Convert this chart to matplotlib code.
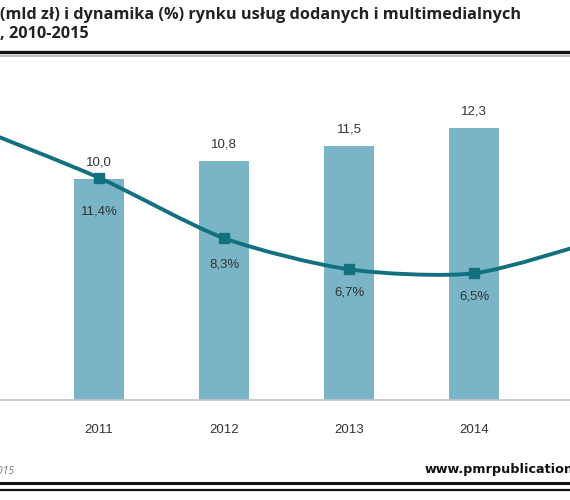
import matplotlib
matplotlib.use("Agg")
import matplotlib.pyplot as plt
from matplotlib.lines import Line2D
from matplotlib.path import Path
from matplotlib.patches import PathPatch
import numpy as np

# dane
lata = ["2010", "2011", "2012", "2013", "2014", "2015"]
wartosc = [9.0, 10.0, 10.8, 11.5, 12.3, 13.3]        # mld zł
dynamika = [14.0, 11.4, 8.3, 6.7, 6.5, 8.2]           # %
etykiety_wart = ["9,0", "10,0", "10,8", "11,5", "12,3", "13,3"]
etykiety_dyn = ["14,0%", "11,4%", "8,3%", "6,7%", "6,5%", "8,2%"]

kolor_slupka = "#79B5C6"
kolor_linii = "#12707F"
kolor_tekstu = "#333333"

# widoczny fragment osi X (wykres jest przyciety jak w oryginale)
X_MIN, X_MAX = 0.208, 4.768


def gladka_sciezka(xs, ys, k=8.0):
    # krzywa Beziera przez punkty (jak wygladzona linia w Excelu)
    pts = np.column_stack([xs, ys]).astype(float)
    verts = [pts[0]]
    codes = [Path.MOVETO]
    n = len(pts)
    for i in range(n - 1):
        p0 = pts[i - 1] if i > 0 else pts[i]
        p1 = pts[i]
        p2 = pts[i + 1]
        p3 = pts[i + 2] if i + 2 < n else pts[i + 1]
        c1 = p1 + (p2 - p0) / k
        c2 = p2 - (p3 - p1) / k
        verts += [c1, c2, p2]
        codes += [Path.CURVE4] * 3
    return Path(verts, codes)


fig = plt.figure(figsize=(5.7, 5.0), dpi=100)

ax = fig.add_axes([0, 0.2, 1, 0.68])
x = np.arange(len(lata))
ax.bar(x, wartosc, width=0.4, color=kolor_slupka, zorder=2)
ax.set_ylim(0, 15.38)
ax.set_xticks(x)
ax.set_xticklabels(lata, fontsize=9.5, color=kolor_tekstu, family="Liberation Sans")
ax.tick_params(axis="x", length=0, pad=17)
ax.set_yticks([])
for s in ["top", "left", "right"]:
    ax.spines[s].set_visible(False)
ax.spines["bottom"].set_color("#C4C4C4")
ax.spines["bottom"].set_linewidth(1.2)

widoczne = [X_MIN < xi < X_MAX for xi in x]

for xi, v, lab, w in zip(x, wartosc, etykiety_wart, widoczne):
    if w:
        ax.annotate(lab, (xi, v), xytext=(0, 12), textcoords="offset points",
                    ha="center", va="center", fontsize=9.5, color=kolor_tekstu,
                    family="Liberation Sans")

ax2 = ax.twinx()
ax2.set_ylim(0, 17.44)
ax2.set_yticks([])
for s in ax2.spines.values():
    s.set_visible(False)
ax2.add_patch(PathPatch(gladka_sciezka(x, dynamika), facecolor="none",
                        edgecolor=kolor_linii, lw=2.8, zorder=3))
ax2.plot(x, dynamika, ls="none", marker="s", ms=7.5, color=kolor_linii, zorder=4)

przesuniecia = [-24, -24, -19, -17, -17, -17]
for xi, v, lab, dy, w in zip(x, dynamika, etykiety_dyn, przesuniecia, widoczne):
    if w:
        ax2.annotate(lab, (xi, v), xytext=(0, dy), textcoords="offset points",
                     ha="center", va="center", fontsize=9.5, color=kolor_tekstu,
                     family="Liberation Sans")

ax.set_xlim(X_MIN, X_MAX)
ax2.set_xlim(X_MIN, X_MAX)

# tytul
fig.text(0.0, 1 - 15 / 500, "(mld zł) i dynamika (%) rynku usług dodanych i multimedialnych",
         ha="left", va="center", fontsize=11.7, fontweight="bold", family="Open Sans",
         color="#222222")
fig.text(0.0, 1 - 34 / 500, ", 2010-2015", ha="left", va="center", fontsize=11.7,
         fontweight="bold", family="Open Sans", color="#222222")

# linie ramki
fig.add_artist(Line2D([0, 1], [1 - 51.5 / 500] * 2, color="#111111", lw=2.4))
fig.add_artist(Line2D([0, 1], [1 - 55.5 / 500] * 2, color="#B0B0B0", lw=1.2))
fig.add_artist(Line2D([0, 1], [1 - 483 / 500] * 2, color="#111111", lw=2.2))
fig.add_artist(Line2D([0, 1], [1 - 489.5 / 500] * 2, color="#111111", lw=1.6))

# stopka
fig.text(14 / 570, 1 - 471 / 500, "Źródło: PMR, 2015", ha="right", va="center",
         fontsize=7.5, style="italic", color="#777777", family="Open Sans")
fig.text(425 / 570, 1 - 470 / 500, "www.pmrpublications.com", ha="left", va="center",
         fontsize=9.2, fontweight="bold", color="#111111", family="DejaVu Sans")

fig.savefig("out.png", dpi=100)
